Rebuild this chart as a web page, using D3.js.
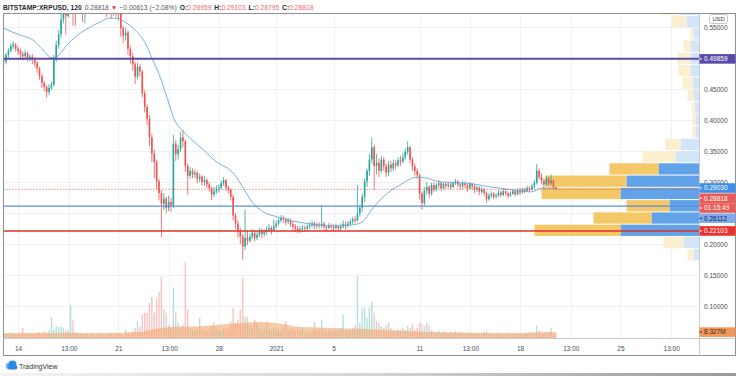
<!DOCTYPE html>
<html>
<head>
<meta charset="utf-8">
<script src="https://cdn.jsdelivr.net/npm/d3@7"></script>
<style>
html, body { margin: 0; padding: 0; background: #fff; }
svg { display: block; font-family: "Liberation Sans", Arial, sans-serif; }
</style>
</head>
<body>
<svg id="chart" width="736" height="376"></svg>
<script>
// ---- data (4h candles, BITSTAMP:XRPUSD) ----
var startTime = "2020-12-13T00:00";
var firstOpen = 0.500;

var closes = [
  0.494, 0.505, 0.512, 0.519, 0.522, 0.515, // Dec 13
  0.511, 0.506, 0.503, 0.508, 0.499, 0.502, // Dec 14
  0.497, 0.492, 0.483, 0.471, 0.460, 0.453, // Dec 15
  0.445, 0.452, 0.457, 0.497, 0.521, 0.538, // Dec 16
  0.562, 0.586, 0.568, 0.603, 0.618, 0.598, // Dec 17
  0.588, 0.596, 0.582, 0.577, 0.586, 0.591, // Dec 18
  0.598, 0.594, 0.601, 0.596, 0.590, 0.594, // Dec 19
  0.588, 0.582, 0.586, 0.579, 0.584, 0.580, // Dec 20
  0.574, 0.548, 0.536, 0.541, 0.515, 0.503, // Dec 21
  0.490, 0.470, 0.486, 0.478, 0.443, 0.421, // Dec 22
  0.402, 0.372, 0.346, 0.332, 0.301, 0.282, // Dec 23
  0.265, 0.273, 0.258, 0.268, 0.262, 0.362, // Dec 24
  0.345, 0.353, 0.372, 0.366, 0.326, 0.310, // Dec 25
  0.318, 0.312, 0.315, 0.305, 0.309, 0.300, // Dec 26
  0.303, 0.296, 0.290, 0.280, 0.285, 0.289, // Dec 27
  0.291, 0.298, 0.303, 0.291, 0.287, 0.276, // Dec 28
  0.246, 0.233, 0.221, 0.212, 0.196, 0.210, // Dec 29
  0.205, 0.212, 0.218, 0.210, 0.215, 0.220, // Dec 30
  0.216, 0.219, 0.223, 0.226, 0.222, 0.229, // Dec 31
  0.233, 0.238, 0.242, 0.240, 0.236, 0.238, // Jan 1
  0.232, 0.228, 0.225, 0.222, 0.224, 0.226, // Jan 2
  0.225, 0.228, 0.230, 0.233, 0.229, 0.231, // Jan 3
  0.230, 0.233, 0.228, 0.226, 0.230, 0.228, // Jan 4
  0.226, 0.229, 0.225, 0.228, 0.232, 0.230, // Jan 5
  0.233, 0.236, 0.240, 0.238, 0.249, 0.258, // Jan 6
  0.276, 0.301, 0.318, 0.336, 0.356, 0.326, // Jan 7
  0.331, 0.318, 0.336, 0.325, 0.315, 0.328, // Jan 8
  0.322, 0.330, 0.327, 0.335, 0.333, 0.340, // Jan 9
  0.349, 0.356, 0.336, 0.325, 0.318, 0.311, // Jan 10
  0.281, 0.266, 0.286, 0.292, 0.281, 0.295, // Jan 11
  0.288, 0.295, 0.298, 0.290, 0.297, 0.294, // Jan 12
  0.296, 0.292, 0.298, 0.301, 0.296, 0.293, // Jan 13
  0.298, 0.295, 0.290, 0.297, 0.293, 0.288, // Jan 14
  0.291, 0.284, 0.288, 0.282, 0.272, 0.278, // Jan 15
  0.281, 0.276, 0.278, 0.283, 0.279, 0.285, // Jan 16
  0.282, 0.278, 0.281, 0.285, 0.280, 0.286, // Jan 17
  0.283, 0.288, 0.286, 0.290, 0.288, 0.293, // Jan 18
  0.299, 0.318, 0.308, 0.302, 0.296, 0.305, // Jan 19
  0.298, 0.302, 0.292, 0.288                // Jan 20
];

var highs = [
  0.506, 0.508, 0.516, 0.524, 0.527, 0.524,
  0.519, 0.515, 0.511, 0.513, 0.510, 0.506,
  0.506, 0.501, 0.495, 0.486, 0.474, 0.463,
  0.456, 0.458, 0.462, 0.505, 0.528, 0.545,
  0.572, 0.598, 0.590, 0.612, 0.640, 0.625,
  0.606, 0.605, 0.600, 0.590, 0.594, 0.600,
  0.606, 0.604, 0.610, 0.606, 0.600, 0.602,
  0.598, 0.592, 0.592, 0.590, 0.590, 0.588,
  0.588, 0.578, 0.552, 0.549, 0.545, 0.520,
  0.508, 0.494, 0.492, 0.490, 0.481, 0.448,
  0.425, 0.408, 0.378, 0.352, 0.336, 0.305,
  0.287, 0.282, 0.276, 0.278, 0.275, 0.376,
  0.368, 0.360, 0.380, 0.384, 0.368, 0.330,
  0.324, 0.322, 0.320, 0.318, 0.314, 0.311,
  0.310, 0.306, 0.300, 0.293, 0.292, 0.295,
  0.296, 0.303, 0.308, 0.305, 0.294, 0.290,
  0.280, 0.250, 0.238, 0.226, 0.216, 0.255,
  0.222, 0.217, 0.224, 0.221, 0.220, 0.226,
  0.225, 0.224, 0.228, 0.232, 0.229, 0.239,
  0.238, 0.242, 0.247, 0.246, 0.243, 0.242,
  0.241, 0.236, 0.232, 0.229, 0.229, 0.231,
  0.230, 0.232, 0.235, 0.238, 0.236, 0.235,
  0.235, 0.263, 0.236, 0.231, 0.234, 0.233,
  0.232, 0.233, 0.231, 0.233, 0.238, 0.236,
  0.237, 0.240, 0.244, 0.245, 0.295, 0.263,
  0.282, 0.306, 0.322, 0.345, 0.371, 0.360,
  0.345, 0.338, 0.342, 0.340, 0.330, 0.334,
  0.334, 0.336, 0.335, 0.340, 0.342, 0.346,
  0.354, 0.366, 0.358, 0.340, 0.330, 0.322,
  0.314, 0.285, 0.292, 0.300, 0.295, 0.299,
  0.299, 0.298, 0.303, 0.301, 0.300, 0.300,
  0.300, 0.299, 0.301, 0.305, 0.303, 0.299,
  0.302, 0.301, 0.298, 0.300, 0.299, 0.296,
  0.294, 0.293, 0.292, 0.290, 0.285, 0.282,
  0.285, 0.284, 0.282, 0.287, 0.286, 0.289,
  0.289, 0.285, 0.285, 0.289, 0.287, 0.290,
  0.290, 0.291, 0.291, 0.294, 0.293, 0.297,
  0.303, 0.329, 0.322, 0.314, 0.306, 0.310,
  0.308, 0.312, 0.304, 0.291
];

var lows = [
  0.485, 0.490, 0.501, 0.509, 0.514, 0.510,
  0.505, 0.500, 0.496, 0.500, 0.494, 0.495,
  0.490, 0.486, 0.476, 0.465, 0.452, 0.446,
  0.436, 0.440, 0.448, 0.454, 0.494, 0.515,
  0.532, 0.556, 0.538, 0.565, 0.595, 0.552,
  0.552, 0.578, 0.572, 0.558, 0.556, 0.578,
  0.585, 0.586, 0.590, 0.588, 0.580, 0.583,
  0.572, 0.566, 0.574, 0.563, 0.568, 0.566,
  0.560, 0.534, 0.524, 0.528, 0.505, 0.491,
  0.480, 0.458, 0.466, 0.470, 0.436, 0.412,
  0.392, 0.358, 0.332, 0.306, 0.288, 0.270,
  0.211, 0.255, 0.250, 0.253, 0.252, 0.258,
  0.334, 0.336, 0.348, 0.356, 0.316, 0.279,
  0.305, 0.306, 0.306, 0.298, 0.300, 0.294,
  0.294, 0.290, 0.284, 0.271, 0.276, 0.281,
  0.283, 0.288, 0.294, 0.286, 0.281, 0.270,
  0.238, 0.224, 0.210, 0.200, 0.174, 0.190,
  0.198, 0.202, 0.208, 0.204, 0.206, 0.211,
  0.209, 0.212, 0.215, 0.219, 0.215, 0.220,
  0.225, 0.230, 0.235, 0.234, 0.230, 0.232,
  0.228, 0.222, 0.219, 0.217, 0.218, 0.220,
  0.220, 0.222, 0.224, 0.227, 0.224, 0.225,
  0.225, 0.226, 0.223, 0.220, 0.224, 0.223,
  0.221, 0.223, 0.221, 0.222, 0.225, 0.224,
  0.226, 0.229, 0.232, 0.233, 0.236, 0.244,
  0.252, 0.268, 0.292, 0.310, 0.330, 0.287,
  0.312, 0.308, 0.314, 0.318, 0.308, 0.310,
  0.316, 0.318, 0.320, 0.324, 0.326, 0.330,
  0.336, 0.344, 0.330, 0.318, 0.310, 0.305,
  0.272, 0.255, 0.262, 0.280, 0.274, 0.278,
  0.284, 0.285, 0.290, 0.286, 0.288, 0.289,
  0.290, 0.288, 0.290, 0.295, 0.292, 0.288,
  0.289, 0.290, 0.284, 0.288, 0.287, 0.282,
  0.284, 0.279, 0.281, 0.277, 0.266, 0.270,
  0.274, 0.272, 0.273, 0.276, 0.275, 0.277,
  0.278, 0.274, 0.276, 0.279, 0.276, 0.279,
  0.279, 0.281, 0.282, 0.284, 0.284, 0.286,
  0.289, 0.296, 0.304, 0.296, 0.290, 0.294,
  0.294, 0.295, 0.288, 0.288
];

// volume per candle, millions
var volumes = [
  4, 5, 3, 6, 5, 4,    5, 4, 12, 5, 4, 6,    4, 5, 6, 7, 5, 8,
  6, 9, 25, 10, 14, 13,  13, 12, 9, 10, 39, 21,  7, 6, 5, 6, 4, 5,
  4, 5, 3, 4, 6, 5,    4, 3, 5, 6, 4, 5,    6, 5, 4, 10, 7, 6,
  8, 12, 20, 14, 28, 30,  30, 42, 49, 30, 46, 55,  73, 34, 30, 15, 12, 60,
  30, 18, 14, 16, 90, 34,  12, 10, 9, 11, 24, 10,  8, 9, 10, 14, 19, 10,
  9, 8, 12, 10, 11, 20,  36, 18, 22, 34, 72, 26,  25, 14, 12, 22, 18, 12,
  10, 11, 19, 10, 9, 12,  8, 10, 9, 12, 20, 10,  9, 11, 8, 10, 9, 12,
  8, 7, 9, 8, 19, 9,    10, 22, 9, 8, 10, 9,   8, 9, 10, 12, 28, 10,
  9, 10, 12, 16, 73, 18,  36, 36, 24, 36, 43, 30,  20, 18, 14, 12, 15, 18,
  12, 10, 9, 11, 10, 12,  10, 14, 12, 17, 10, 12,  18, 17, 14, 18, 15, 10,
  8, 7, 9, 6, 8, 7,    6, 7, 6, 8, 6, 7,    6, 5, 7, 6, 5, 6,
  6, 5, 6, 7, 9, 6,    5, 4, 5, 6, 5, 4,    4, 5, 4, 5, 4, 5,
  5, 4, 6, 5, 7, 6,    7, 15, 9, 7, 6, 8,   7, 12, 6, 5
];

// moving average of price (blue line)
var maTimes = ["2020-12-13T00:00", "2020-12-14T03:00", "2020-12-15T01:00", "2020-12-15T18:00",
  "2020-12-16T09:00", "2020-12-16T17:00", "2020-12-17T10:00", "2020-12-18T08:00", "2020-12-19T01:00",
  "2020-12-19T17:00", "2020-12-20T10:00", "2020-12-20T22:00", "2020-12-21T11:00", "2020-12-22T04:00",
  "2020-12-22T21:00", "2020-12-23T08:00", "2020-12-23T22:00", "2020-12-24T09:00", "2020-12-24T23:00",
  "2020-12-25T12:00", "2020-12-26T22:00", "2020-12-27T21:00", "2020-12-28T19:00", "2020-12-29T03:00",
  "2020-12-29T17:00", "2020-12-30T09:00", "2020-12-31T02:00", "2021-01-01T01:00", "2021-01-02T04:00",
  "2021-01-03T13:00", "2021-01-04T23:00", "2021-01-06T09:00", "2021-01-07T02:00", "2021-01-07T14:00",
  "2021-01-08T11:00", "2021-01-09T15:00", "2021-01-10T20:00", "2021-01-11T13:00", "2021-01-12T11:00",
  "2021-01-14T08:00", "2021-01-15T23:00", "2021-01-17T14:00", "2021-01-18T19:00", "2021-01-19T12:00",
  "2021-01-20T12:00"];
var maValues = [0.548, 0.537, 0.529, 0.513, 0.500, 0.502, 0.521, 0.540, 0.550, 0.558, 0.5645, 0.564,
  0.558, 0.545, 0.524, 0.500, 0.469, 0.437, 0.398, 0.382, 0.352, 0.332, 0.319, 0.311, 0.290, 0.266,
  0.252, 0.244, 0.237, 0.232, 0.229, 0.231, 0.237, 0.253, 0.276, 0.295, 0.308, 0.306, 0.300, 0.298,
  0.292, 0.287, 0.284, 0.290, 0.2903];

// moving average of volume (orange area), millions
var volMaTimes = ["2020-12-13T00:00", "2020-12-16T06:00", "2020-12-19T17:00", "2020-12-22T12:00",
  "2020-12-23T05:00", "2020-12-24T14:00", "2020-12-26T17:00", "2020-12-29T00:00", "2020-12-30T21:00",
  "2021-01-01T07:00", "2021-01-02T16:00", "2021-01-05T00:00", "2021-01-06T20:00", "2021-01-09T15:00",
  "2021-01-11T17:00", "2021-01-15T04:00", "2021-01-18T00:00", "2021-01-20T12:00"];
var volMaValues = [6, 6, 6, 7, 9.5, 13, 14, 17, 19, 17, 13, 12, 11, 8.5, 7, 6, 6, 7];

// visible range volume profile, rows of equal price height from the bottom
var profileLow = 0.1726;
var profileStep = 0.0198;
var profileUp = [6, 20, 86, 58, 43, 79, 81, 49, 33, 15, 3, 3, 3, 6, 10, 12, 13, 7, 3, 15, 20, 18, 8, 3];
var profileDown = [6, 16, 79, 48, 30, 79, 73, 41, 24, 19, 4, 4, 5, 6, 7, 9, 9, 9, 6, 13, 18, 15, 7, 3];
var valueAreaRows = [2, 7];

// horizontal lines and header
var levelPurple = 0.49859;
var levelBlue = 0.26112;
var levelRed = 0.22103;
var lastPrice = 0.28818;
var maLast = 0.29030;
var countdown = "01:15:49";
var volMaLabel = "8.327M";
var title = "BITSTAMP:XRPUSD, 120";
var changeText = "\u22120.00613 (\u22122.08%)";
var ohlcNames = ["O:", "H:", "L:", "C:"];
var ohlcValues = ["0.28959", "0.29103", "0.28795", "0.28818"];

// axes
var priceGrid = [0.10, 0.15, 0.20, 0.25, 0.30, 0.35, 0.40, 0.45, 0.50, 0.55];
var priceTicks = [0.10, 0.15, 0.20, 0.30, 0.35, 0.40, 0.45, 0.55];
var timeTicks = ["2020-12-14T00:00", "2020-12-17T13:00", "2020-12-21T00:00", "2020-12-24T13:00",
  "2020-12-28T00:00", "2021-01-01T00:00", "2021-01-05T00:00", "2021-01-11T00:00", "2021-01-14T13:00",
  "2021-01-18T00:00", "2021-01-21T13:00", "2021-01-25T00:00", "2021-01-28T13:00"];
var timeLabels = ["14", "13:00", "21", "13:00", "28", "2021", "5", "11", "13:00", "18", "13:00", "25", "13:00"];

// ---- drawing ----
var parse = d3.timeParse("%Y-%m-%dT%H:%M");
var upColor = "#26a69a", downColor = "#ef5350";
var pane = { left: 3.5, top: 13.5, right: 699.5, bottom: 338.5, axisBottom: 355.5, outerRight: 735.5 };

var svg = d3.select("#chart");

var x = d3.scaleTime()
    .domain([parse("2020-12-14T00:00"), parse("2021-01-18T00:00")])
    .range([18, 520]);
var y = d3.scaleLinear().domain([0.10, 0.45]).range([306, 89]);
var vy = d3.scaleLinear().domain([0, 100]).range([338, 254]);
var pw = d3.scaleLinear().domain([0, 165]).range([0, 165]);

var t0 = parse(startTime);
var candles = closes.map(function(c, i) {
    return {
        t: d3.timeHour.offset(t0, 4 * i),
        o: i ? closes[i - 1] : firstOpen,
        h: highs[i], l: lows[i], c: c, v: volumes[i]
    };
});

svg.append("defs").append("clipPath").attr("id", "clip")
    .append("rect")
    .attr("x", pane.left).attr("y", pane.top)
    .attr("width", pane.right - pane.left).attr("height", pane.bottom - pane.top);

var plot = svg.append("g").attr("clip-path", "url(#clip)");

// grid
plot.selectAll(".hgrid").data(priceGrid).enter().append("line")
    .attr("x1", pane.left).attr("x2", pane.right)
    .attr("y1", function(d) { return Math.round(y(d)) + 0.5; })
    .attr("y2", function(d) { return Math.round(y(d)) + 0.5; })
    .attr("stroke", "#f0f1f4");
plot.selectAll(".vgrid").data(timeTicks).enter().append("line")
    .attr("x1", function(d) { return Math.round(x(parse(d))) + 0.5; })
    .attr("x2", function(d) { return Math.round(x(parse(d))) + 0.5; })
    .attr("y1", pane.top).attr("y2", pane.bottom)
    .attr("stroke", "#f0f1f4");

// volume profile, anchored to the price axis
var rows = profileUp.map(function(u, i) {
    return { i: i, lo: profileLow + i * profileStep, hi: profileLow + (i + 1) * profileStep, up: u, down: profileDown[i] };
});
var inVA = function(d) { return d.i >= valueAreaRows[0] && d.i <= valueAreaRows[1]; };
var prof = plot.append("g");
prof.selectAll(".pdown").data(rows).enter().append("rect")
    .attr("x", function(d) { return pane.right - pw(d.down); })
    .attr("width", function(d) { return pw(d.down); })
    .attr("y", function(d) { return y(d.hi) + 0.5; })
    .attr("height", function(d) { return y(d.lo) - y(d.hi) - 1; })
    .attr("fill", function(d) { return inVA(d) ? "#62a2e6" : "#d3e5f8"; });
prof.selectAll(".pup").data(rows).enter().append("rect")
    .attr("x", function(d) { return pane.right - pw(d.down) - pw(d.up); })
    .attr("width", function(d) { return pw(d.up); })
    .attr("y", function(d) { return y(d.hi) + 0.5; })
    .attr("height", function(d) { return y(d.lo) - y(d.hi) - 1; })
    .attr("fill", function(d) { return inVA(d) ? "#f4c866" : "#fcefd0"; });

// volume bars and their average
plot.selectAll(".vol").data(candles).enter().append("rect")
    .attr("x", function(d) { return x(d.t) - 0.7; })
    .attr("width", 1.4)
    .attr("y", function(d) { return vy(d.v); })
    .attr("height", function(d) { return vy(0) - vy(d.v); })
    .attr("fill", function(d) { return d.c >= d.o ? upColor : downColor; })
    .attr("opacity", 0.35);

var volMa = volMaTimes.map(function(t, i) { return { t: parse(t), v: volMaValues[i] }; });
plot.append("path")
    .datum(volMa)
    .attr("fill", "#f4a66e")
    .attr("opacity", 0.6)
    .attr("d", d3.area().curve(d3.curveMonotoneX)
        .x(function(d) { return x(d.t); })
        .y0(vy(0))
        .y1(function(d) { return vy(d.v); }));

// candles
var cg = plot.selectAll(".candle").data(candles).enter().append("g");
cg.append("line")
    .attr("x1", function(d) { return x(d.t); })
    .attr("x2", function(d) { return x(d.t); })
    .attr("y1", function(d) { return y(d.h); })
    .attr("y2", function(d) { return y(d.l); })
    .attr("stroke", function(d) { return d.c >= d.o ? upColor : downColor; })
    .attr("stroke-width", 0.8);
cg.append("rect")
    .attr("x", function(d) { return x(d.t) - 0.8; })
    .attr("width", 1.6)
    .attr("y", function(d) { return y(Math.max(d.o, d.c)); })
    .attr("height", function(d) { return Math.max(0.8, Math.abs(y(d.o) - y(d.c))); })
    .attr("fill", function(d) { return d.c >= d.o ? upColor : downColor; });

// moving average line
var ma = maTimes.map(function(t, i) { return { t: parse(t), v: maValues[i] }; });
plot.append("path")
    .datum(ma)
    .attr("fill", "none")
    .attr("stroke", "#6aa7de")
    .attr("stroke-width", 0.9)
    .attr("d", d3.line().curve(d3.curveMonotoneX)
        .x(function(d) { return x(d.t); })
        .y(function(d) { return y(d.v); }));

// horizontal levels
function hline(value, color, width, dash) {
    plot.append("line")
        .attr("x1", pane.left).attr("x2", pane.right)
        .attr("y1", y(value)).attr("y2", y(value))
        .attr("stroke", color).attr("stroke-width", width)
        .attr("stroke-dasharray", dash || null);
}
hline(lastPrice, "#ef5350", 1, "1,2");
hline(levelBlue, "#5a8fdc", 1.2);
hline(levelRed, "#e0302b", 1.4);
hline(levelPurple, "#5b4aa8", 2);

// frame
var frame = svg.append("g").attr("stroke", "#8f9198").attr("fill", "none");
frame.append("rect").attr("x", pane.left).attr("y", pane.top)
    .attr("width", pane.outerRight - pane.left).attr("height", pane.axisBottom - pane.top);
frame.append("line").attr("x1", pane.right).attr("x2", pane.right).attr("y1", pane.top).attr("y2", pane.axisBottom)
    .attr("stroke", "#c9cbd1");
frame.append("line").attr("x1", pane.left).attr("x2", pane.outerRight).attr("y1", pane.bottom).attr("y2", pane.bottom)
    .attr("stroke", "#c9cbd1");

// price axis
var yAxis = svg.append("g")
    .attr("transform", "translate(" + 701 + ",0)")
    .call(d3.axisRight(y).tickValues(priceTicks).tickSize(0).tickPadding(3).tickFormat(d3.format(".5f")));
yAxis.select(".domain").remove();
yAxis.selectAll("text").style("font-size", "6.5px").attr("fill", "#4a4d55");

// time axis
var xAxis = svg.append("g")
    .attr("transform", "translate(0," + 343 + ")")
    .call(d3.axisBottom(x).tickValues(timeTicks.map(parse)).tickSize(0).tickPadding(3)
        .tickFormat(function(d, i) { return timeLabels[i]; }));
xAxis.select(".domain").remove();
xAxis.selectAll("text").style("font-size", "6.5px").attr("fill", "#4a4d55");

// price axis labels, stacked so they do not overlap
function axisLabel(cy, text, fill, color) {
    var g = svg.append("g");
    g.append("rect").attr("x", 699.5).attr("y", cy - 4.8).attr("width", 36).attr("height", 9.6).attr("fill", fill);
    g.append("line").attr("x1", 699.5).attr("x2", 702).attr("y1", cy).attr("y2", cy).attr("stroke", color);
    g.append("text").attr("x", 704).attr("y", cy + 2.3).text(text)
        .style("font-size", "6.5px").attr("fill", color);
}
var stack = [
    { v: maLast, texts: [d3.format(".5f")(maLast)], fill: "#3f8fe8", color: "#fff" },
    { v: lastPrice, texts: [d3.format(".5f")(lastPrice), countdown], fill: "#ea5b58", color: "#fff" },
    { v: levelBlue, texts: [d3.format(".5f")(levelBlue)], fill: "#7eaaeb", color: "#142457" },
    { v: levelRed, texts: [d3.format(".5f")(levelRed)], fill: "#e8322d", color: "#fff" }
];
var prevBottom = -Infinity;
stack.forEach(function(s) {
    var top = Math.max(y(s.v) - 4.8, prevBottom + 0.6);
    s.texts.forEach(function(t, k) {
        axisLabel(top + 4.8 + k * 9.8, t, s.fill, s.color);
    });
    prevBottom = top + s.texts.length * 9.8 - 0.2;
});
axisLabel(y(levelPurple), d3.format(".5f")(levelPurple), "#5b4aa8", "#fff");
axisLabel(vy(volMaValues[volMaValues.length - 1]), volMaLabel, "#f2975a", "#3a2a1a");

// currency badge, kept just above the top tick label
svg.append("rect").attr("x", 709.5).attr("y", 14.5).attr("width", 18).attr("height", 9).attr("rx", 2)
    .attr("fill", "#fff").attr("stroke", "#c3c5cc");
svg.append("text").attr("x", 718.5).attr("y", 21.2).attr("text-anchor", "middle").text("USD")
    .style("font-size", "5.8px").attr("fill", "#333");

// header
var header = svg.append("text").attr("x", 3).attr("y", 10).style("font-size", "6.7px");
header.append("tspan").attr("font-weight", "bold").attr("fill", "#26282e").text(title);
header.append("tspan").attr("dx", 3).attr("fill", "#55585f").text(d3.format(".5f")(lastPrice));
header.append("tspan").attr("dx", 2).attr("fill", "#e5403d").text("\u25BC");
header.append("tspan").attr("dx", 2).attr("fill", "#55585f").text(changeText);
ohlcNames.forEach(function(n, i) {
    header.append("tspan").attr("dx", 3).attr("font-weight", "bold").attr("fill", "#26282e").text(n);
    header.append("tspan").attr("fill", "#ef6b68").text(ohlcValues[i]);
});

// footer logo
var logo = svg.append("g").attr("transform", "translate(5,360)");
logo.append("circle").attr("cx", 4).attr("cy", 6).attr("r", 3.2).attr("fill", "#63b0f4");
logo.append("circle").attr("cx", 7.5).attr("cy", 4.5).attr("r", 4).attr("fill", "#2e86e6");
logo.append("rect").attr("x", 3).attr("y", 5.5).attr("width", 9.5).attr("height", 4).attr("rx", 2).attr("fill", "#2e86e6");
svg.append("text").attr("x", 19).attr("y", 368.5).text("TradingView")
    .style("font-size", "7px").attr("fill", "#333");

// bottom shadow strip
var grad = svg.select("defs").append("linearGradient").attr("id", "shade").attr("x1", 0).attr("x2", 1);
grad.append("stop").attr("offset", "0").attr("stop-color", "#f4f4f4");
grad.append("stop").attr("offset", "0.5").attr("stop-color", "#d4d4d4");
grad.append("stop").attr("offset", "1").attr("stop-color", "#9a9a9a");
svg.append("rect").attr("x", 0).attr("y", 373).attr("width", 736).attr("height", 3).attr("fill", "url(#shade)");
</script>
</body>
</html>
